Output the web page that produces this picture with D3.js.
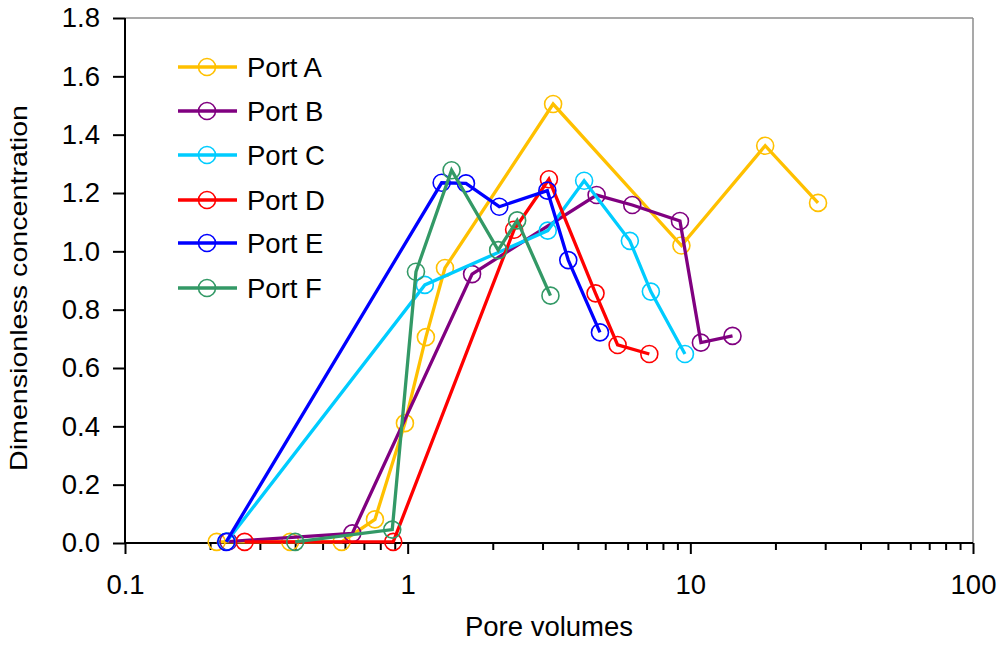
<!DOCTYPE html>
<html>
<head>
<meta charset="utf-8">
<script src="https://cdn.jsdelivr.net/npm/d3@7"></script>
<style>
  html, body { margin: 0; padding: 0; background: #fff; }
  svg { display: block; font-family: "Liberation Sans", Arial, sans-serif; }
</style>
</head>
<body>
<svg id="chart" width="1002" height="645"></svg>
<script>
// ---- Data ----
const seriesNames = ["Port A", "Port B", "Port C", "Port D", "Port E", "Port F"];
const seriesColors = ["#FFC000", "#800080", "#00CCFF", "#FF0000", "#0000FF", "#339966"];

const portA_x = [0.211, 0.384, 0.584, 0.766, 0.978, 1.16, 1.355, 3.27, 9.3, 18.4, 28.3];
const portA_y = [0.004, 0.004, 0.004, 0.081, 0.411, 0.706, 0.943, 1.505, 1.020, 1.362, 1.166];

const portB_x = [0.232, 0.637, 1.69, 4.66, 6.23, 9.19, 10.9, 14.1];
const portB_y = [0.005, 0.033, 0.922, 1.193, 1.159, 1.104, 0.687, 0.710];

const portC_x = [0.229, 1.15, 3.13, 4.21, 6.11, 7.25, 9.57];
const portC_y = [0.005, 0.885, 1.071, 1.242, 1.036, 0.862, 0.648];

const portD_x = [0.265, 0.889, 2.38, 3.16, 4.62, 5.53, 7.16];
const portD_y = [0.004, 0.004, 1.074, 1.247, 0.856, 0.679, 0.648];

const portE_x = [0.228, 1.319, 1.608, 2.109, 3.12, 3.70, 4.79];
const portE_y = [0.004, 1.235, 1.233, 1.153, 1.208, 0.970, 0.722];

const portF_x = [0.400, 0.882, 1.07, 1.43, 2.09, 2.44, 3.20];
const portF_y = [0.004, 0.046, 0.930, 1.278, 1.004, 1.106, 0.848];

const yTicks = [0, 0.2, 0.4, 0.6, 0.8, 1.0, 1.2, 1.4, 1.6, 1.8];
const xMajorTicks = [0.1, 1, 10, 100];
const xTickLabels = ["0.1", "1", "10", "100"];
const xMinorMultipliers = [2, 3, 4, 5, 6, 7, 8, 9];

const xLabel = "Pore volumes";
const yLabel = "Dimensionless concentration";

// ---- Build ----
(function () {
const seriesX = [portA_x, portB_x, portC_x, portD_x, portE_x, portF_x];
const seriesY = [portA_y, portB_y, portC_y, portD_y, portE_y, portF_y];
const series = seriesNames.map((name, i) => ({
  name, color: seriesColors[i],
  points: seriesX[i].map((x, j) => ({ x, y: seriesY[i][j] }))
}));

const svg = d3.select("#chart");
const pL = 125, pR = 973, pT = 18, pB = 543;

const x = d3.scaleLog().domain([0.1, 100]).range([pL, pR]);
const y = d3.scaleLinear().domain([0, 1.8]).range([pB, pT]);

const FS = 27.5;

// frame top and right (gray)
svg.append("line").attr("x1", pL).attr("x2", pR).attr("y1", pT).attr("y2", pT)
  .attr("stroke", "#8c8c8c").attr("stroke-width", 1.5);
svg.append("line").attr("x1", pR).attr("x2", pR).attr("y1", pT).attr("y2", pB)
  .attr("stroke", "#8c8c8c").attr("stroke-width", 1.5);

// minor x ticks
const minorTicks = [];
xMajorTicks.slice(0, -1).forEach(d => xMinorMultipliers.forEach(m => minorTicks.push(d * m)));
svg.append("g").attr("transform", `translate(0,${pB})`)
  .call(d3.axisBottom(x).tickValues(minorTicks).tickSize(7).tickFormat(""))
  .call(g => g.select(".domain").remove())
  .call(g => g.selectAll("line").attr("stroke", "#000").attr("stroke-width", 2));

// major x axis
const xAxis = svg.append("g").attr("transform", `translate(0,${pB})`)
  .call(d3.axisBottom(x).tickValues(xMajorTicks).tickSize(11).tickPadding(20)
    .tickFormat((d, i) => xTickLabels[i]));
xAxis.select(".domain").attr("stroke", "#000").attr("stroke-width", 2).attr("d", `M${pL},0H${pR}`);
xAxis.selectAll("line").attr("stroke", "#000").attr("stroke-width", 2);
xAxis.selectAll("text").attr("font-size", FS).attr("fill", "#000")
  .attr("font-family", "Liberation Sans, Arial, sans-serif");

// y axis
const yAxis = svg.append("g").attr("transform", `translate(${pL},0)`)
  .call(d3.axisLeft(y).tickValues(yTicks).tickSize(12).tickPadding(13).tickFormat(d3.format(".1f")));
yAxis.select(".domain").attr("stroke", "#000").attr("stroke-width", 2).attr("d", `M0,${pT}V${pB}`);
yAxis.selectAll("line").attr("stroke", "#000").attr("stroke-width", 2);
yAxis.selectAll("text").attr("font-size", FS).attr("fill", "#000")
  .attr("font-family", "Liberation Sans, Arial, sans-serif");

// axis titles
svg.append("text").attr("x", (pL + pR) / 2).attr("y", 636)
  .attr("text-anchor", "middle").attr("font-size", FS).attr("fill", "#000").text(xLabel);
svg.append("text").attr("transform", `translate(27,288) rotate(-90)`)
  .attr("text-anchor", "middle").attr("font-size", 24).attr("fill", "#000")
  .attr("textLength", 366).attr("lengthAdjust", "spacingAndGlyphs").text(yLabel);

// series
const line = d3.line().x(d => x(d.x)).y(d => y(d.y));
const gSeries = svg.append("g");
series.forEach(s => {
  const g = gSeries.append("g");
  g.append("path").datum(s.points).attr("d", line).attr("fill", "none")
    .attr("stroke", s.color).attr("stroke-width", 3.3).attr("stroke-linejoin", "miter");
  g.selectAll("circle").data(s.points).join("circle")
    .attr("cx", d => x(d.x)).attr("cy", d => y(d.y)).attr("r", 8.5)
    .attr("fill", "none").attr("stroke", s.color).attr("stroke-width", 1.6);
});

// legend
const legendRows = [67, 111, 155, 200, 243, 288];
const lg = svg.append("g");
series.forEach((s, i) => {
  const cy = legendRows[i];
  lg.append("line").attr("x1", 178).attr("x2", 237).attr("y1", cy).attr("y2", cy)
    .attr("stroke", s.color).attr("stroke-width", 3.3);
  lg.append("circle").attr("cx", 207).attr("cy", cy).attr("r", 8.5)
    .attr("fill", "none").attr("stroke", s.color).attr("stroke-width", 1.6);
  lg.append("text").attr("x", 247).attr("y", cy + 10).attr("font-size", FS)
    .attr("fill", "#000").text(s.name);
});
})();
</script>
</body>
</html>
